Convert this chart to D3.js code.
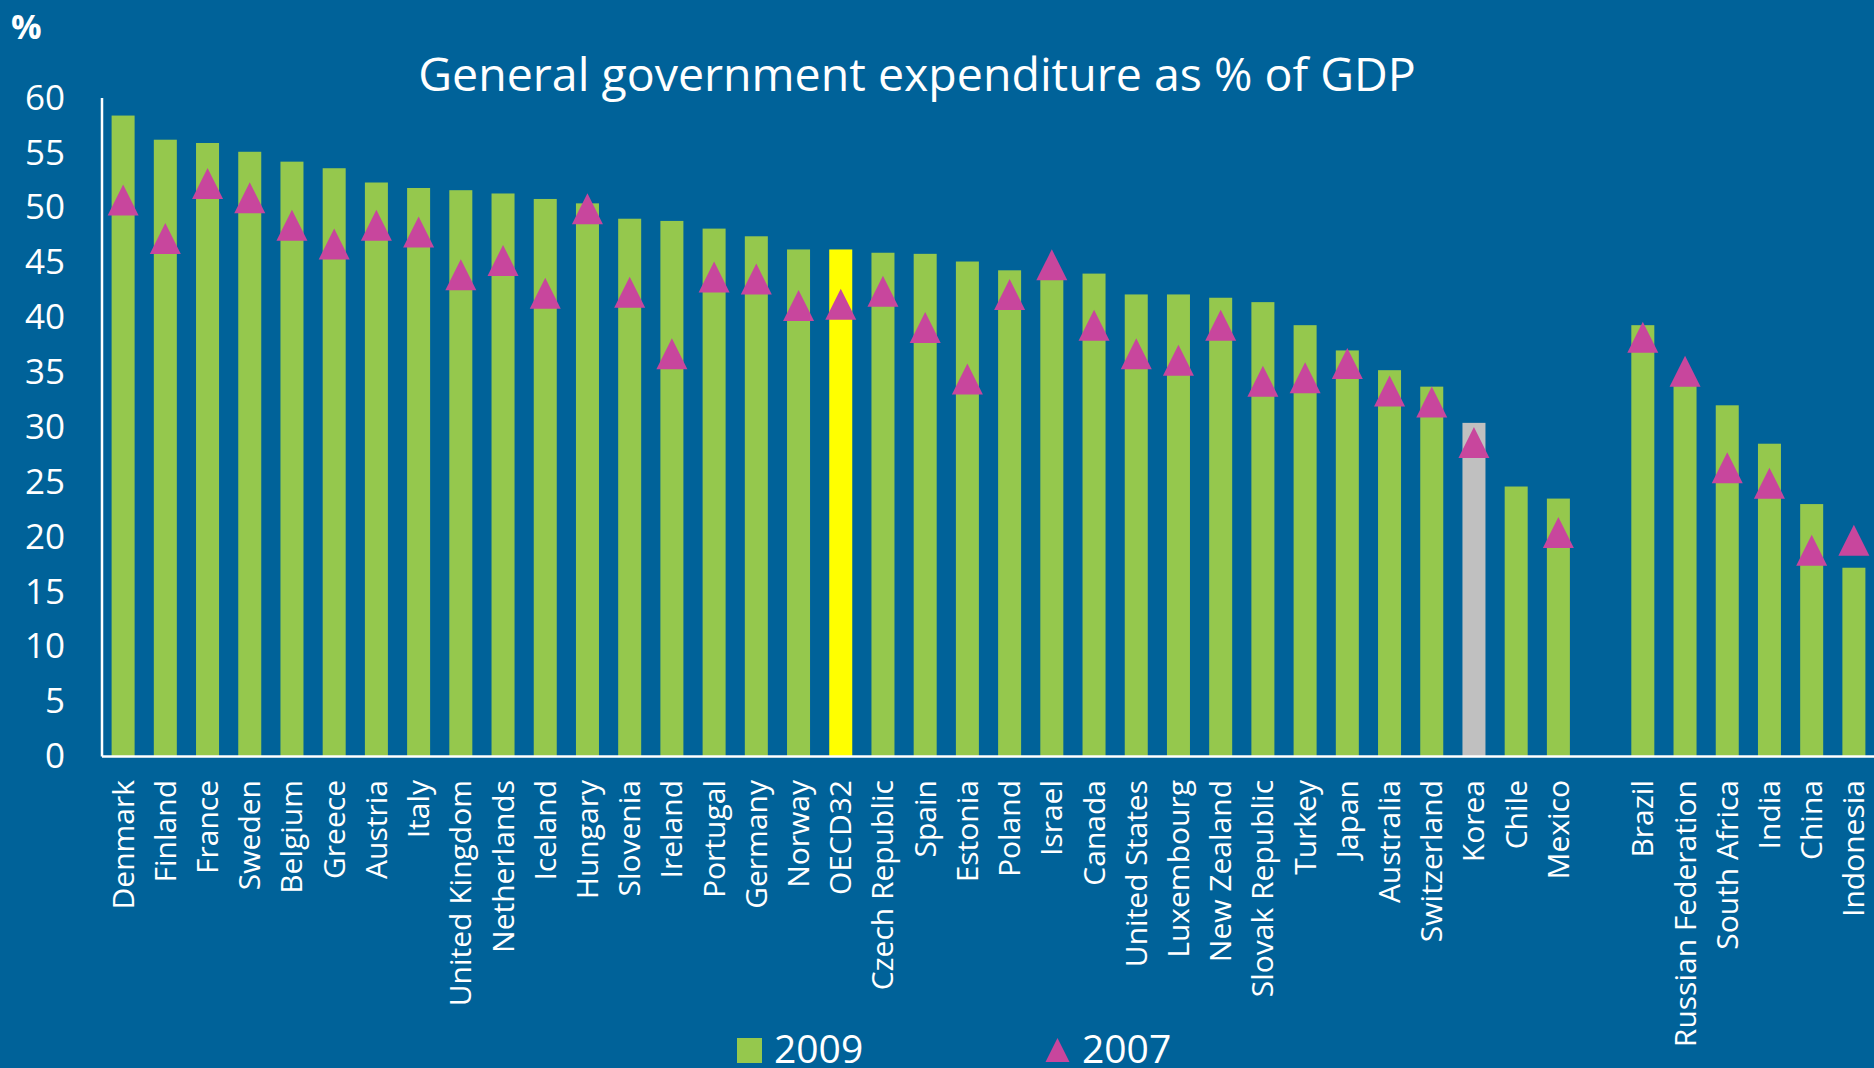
<!DOCTYPE html>
<html>
<head>
<meta charset="utf-8">
<script src="https://cdn.jsdelivr.net/npm/d3@7"></script>
<style>
  html, body { margin: 0; padding: 0; background: #006299; }
  svg { display: block; font-family: "Open Sans", "Noto Sans", sans-serif; }
</style>
</head>
<body>
<svg id="chart" width="1874" height="1068"></svg>
<script>
// categories, "" is the gap between OECD and the partner countries
var countries = ["Denmark", "Finland", "France", "Sweden", "Belgium", "Greece", "Austria", "Italy",
  "United Kingdom", "Netherlands", "Iceland", "Hungary", "Slovenia", "Ireland", "Portugal", "Germany",
  "Norway", "OECD32", "Czech Republic", "Spain", "Estonia", "Poland", "Israel", "Canada",
  "United States", "Luxembourg", "New Zealand", "Slovak Republic", "Turkey", "Japan", "Australia",
  "Switzerland", "Korea", "Chile", "Mexico", "",
  "Brazil", "Russian Federation", "South Africa", "India", "China", "Indonesia"];

var exp2009 = [58.4, 56.2, 55.9, 55.1, 54.2, 53.6, 52.3, 51.8,
  51.6, 51.3, 50.8, 50.4, 49.0, 48.8, 48.1, 47.4,
  46.2, 46.2, 45.9, 45.8, 45.1, 44.3, 43.7, 44.0,
  42.1, 42.1, 41.8, 41.4, 39.3, 37.0, 35.2,
  33.7, 30.4, 24.6, 23.5, null,
  39.3, 34.3, 32.0, 28.5, 23.0, 17.2];

var exp2007 = [50.7, 47.2, 52.2, 50.9, 48.4, 46.7, 48.4, 47.8,
  43.9, 45.2, 42.2, 49.9, 42.3, 36.7, 43.7, 43.5,
  41.1, 41.2, 42.4, 39.1, 34.4, 42.1, 44.8, 39.3,
  36.7, 36.1, 39.3, 34.2, 34.5, 35.8, 33.3,
  32.3, 28.6, null, 20.4, null,
  38.2, 35.1, 26.3, 24.9, 18.8, 19.7];

var yTicks = [0, 5, 10, 15, 20, 25, 30, 35, 40, 45, 50, 55, 60];

var svg = d3.select("#chart");
var W = 1874, H = 1068;
var mLeft = 102, mRight = 1875, mTop = 98, mBottom = 756.5;

svg.append("rect").attr("width", W).attr("height", H).attr("fill", "#006299");

var x = d3.scaleBand()
  .domain(countries.map(function(d, i) { return i; }))
  .range([mLeft, mRight])
  .paddingInner(0.455)
  .paddingOuter(0.2275);

var y = d3.scaleLinear().domain([0, 60]).range([mBottom, mTop]);

// y axis labels
var yAxis = d3.axisLeft(y).tickValues(yTicks).tickSize(0).tickPadding(37);
var yg = svg.append("g").attr("transform", "translate(" + mLeft + ",0)").call(yAxis);
yg.select(".domain").remove();
yg.selectAll("text").attr("fill", "#fff").attr("font-size", 35)
  .attr("font-family", "'Open Sans', sans-serif");

// bars
var barColor = function(name) {
  if (name === "OECD32") return "#ffff00";
  if (name === "Korea") return "#c0c0c0";
  return "#95c84d";
};
svg.append("g").selectAll("rect")
  .data(exp2009.map(function(v, i) { return { i: i, v: v, name: countries[i] }; })
    .filter(function(d) { return d.v != null; }))
  .join("rect")
  .attr("x", function(d) { return x(d.i); })
  .attr("width", x.bandwidth())
  .attr("y", function(d) { return y(d.v); })
  .attr("height", function(d) { return y(0) - y(d.v); })
  .attr("fill", function(d) { return barColor(d.name); });

// axis lines
svg.append("line").attr("x1", mLeft).attr("x2", mLeft).attr("y1", mTop).attr("y2", mBottom)
  .attr("stroke", "#fff").attr("stroke-width", 2.5);
svg.append("line").attr("x1", mLeft).attr("x2", W).attr("y1", mBottom).attr("y2", mBottom)
  .attr("stroke", "#fff").attr("stroke-width", 2.5);

// triangle markers (2007)
var tri = function(cx, cy, s) {
  return "M" + cx + "," + (cy - s) + "L" + (cx + s) + "," + (cy + s) + "L" + (cx - s) + "," + (cy + s) + "Z";
};
svg.append("g").selectAll("path")
  .data(exp2007.map(function(v, i) { return { i: i, v: v }; })
    .filter(function(d) { return d.v != null; }))
  .join("path")
  .attr("d", function(d) { return tri(x(d.i) + x.bandwidth() / 2, y(d.v), 15.5); })
  .attr("fill", "#c8469d");

// category labels
svg.append("g").selectAll("text")
  .data(countries.map(function(c, i) { return { i: i, name: c }; })
    .filter(function(d) { return d.name !== ""; }))
  .join("text")
  .attr("transform", function(d) {
    return "translate(" + (x(d.i) + x.bandwidth() / 2) + ",780) rotate(-90)";
  })
  .attr("text-anchor", "end")
  .attr("dy", "0.35em")
  .attr("fill", "#fff")
  .attr("font-size", 30)
  .text(function(d) { return d.name; });

// title and unit
svg.append("text").attr("x", 917).attr("y", 91).attr("text-anchor", "middle")
  .attr("fill", "#fff").attr("font-size", 46.5)
  .text("General government expenditure as % of GDP");
svg.append("text").attr("x", 11).attr("y", 39)
  .attr("fill", "#fff").attr("font-size", 34).attr("font-weight", "bold")
  .text("%");

// legend
var lg = svg.append("g");
lg.append("rect").attr("x", 737).attr("y", 1038).attr("width", 25).attr("height", 25).attr("fill", "#95c84d");
lg.append("text").attr("x", 774).attr("y", 1063).attr("fill", "#fff").attr("font-size", 39).text("2009");
lg.append("path").attr("d", tri(1057.5, 1050, 12)).attr("fill", "#c8469d");
lg.append("text").attr("x", 1082).attr("y", 1063).attr("fill", "#fff").attr("font-size", 39).text("2007");
</script>
</body>
</html>
